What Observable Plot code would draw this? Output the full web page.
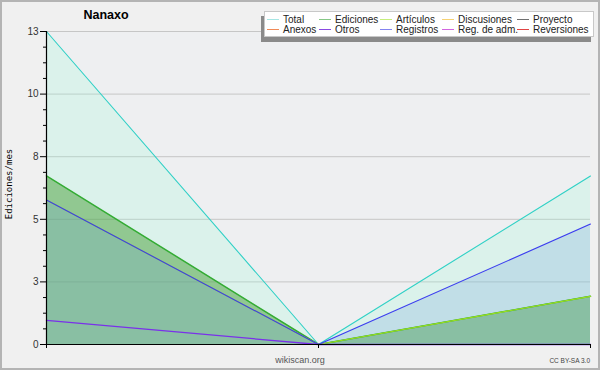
<!DOCTYPE html>
<html><head><meta charset="utf-8">
<script src="https://cdn.jsdelivr.net/npm/d3@7"></script>
<script src="https://cdn.jsdelivr.net/npm/@observablehq/plot@0.6"></script>
<style>
html,body{margin:0;padding:0;background:#f0f0f0;}
#wrap{position:relative;width:600px;height:370px;background:#f0f0f0;overflow:hidden;font-family:"Liberation Sans",sans-serif;}
#wrap svg{position:absolute;left:0;top:0;background:transparent;}
#border{position:absolute;left:0;top:0;width:600px;height:370px;box-sizing:border-box;border:2px solid #b4b4b4;pointer-events:none;}
#title{position:absolute;left:66px;width:80px;top:8px;text-align:center;font:bold 12.5px "Liberation Sans",sans-serif;color:#000;}
#ylabel{position:absolute;left:9px;top:184px;transform:translate(-50%,-50%) rotate(-90deg);font:9px "DejaVu Sans Mono",monospace;color:#000;white-space:nowrap;}
#site{position:absolute;left:300px;top:355px;transform:translateX(-50%);font:9px "Liberation Sans",sans-serif;color:#555;}
#cc{position:absolute;right:10px;top:357px;font:6.5px "Liberation Sans",sans-serif;color:#444;}
#legend{position:absolute;left:264px;top:11px;width:328px;height:24px;background:#fff;border:1px solid #c8c8c8;box-shadow:-3px 5px 0 #8a8a8a;}
.li{position:absolute;height:10px;font:10px "Liberation Sans",sans-serif;color:#222;line-height:10px;white-space:nowrap;}
.sw{display:inline-block;width:12px;height:0;border-top:1.5px solid;vertical-align:middle;margin-right:4px;position:relative;top:-1px;}
</style></head><body><div id="wrap"></div>
<script>
// periods (three monthly points)
const periods = [0, 1, 2];
// series values (ediciones / mes)
const total     = [13, 0, 7];
const ediciones = [7, 0, 2];
const articulos = [6, 0, 2];
const registros = [6, 0, 5];
const otros     = [1, 0, 0];
// axis ticks
const yTicks      = [0, 2.6, 5.2, 7.8, 10.4, 13];
const yTickLabels = ["0", "3", "5", "8", "10", "13"];
const yMinor      = [0.65, 1.3, 1.95, 3.25, 3.9, 4.55, 5.85, 6.5, 7.15, 8.45, 9.1, 9.75, 11.05, 11.7, 12.35];
// legend
const legendNames  = ["Total", "Ediciones", "Artículos", "Discusiones", "Proyecto", "Anexos", "Otros", "Registros", "Reg. de adm.", "Reversiones"];
const legendColors = ["#a6e6e4", "#86c886", "#c6ee7c", "#f6d274", "#707070", "#f08a58", "#8a4ae2", "#8484f0", "#d266e0", "#e04444"];

const rows = (vals) => periods.map((p, i) => ({x: p, y: vals[i]}));

const chart = Plot.plot({
  width: 600, height: 370,
  marginLeft: 46, marginRight: 10, marginTop: 31, marginBottom: 26,
  style: {background: "transparent", fontFamily: "Liberation Sans, sans-serif", fontSize: "10px", color: "#333"},
  x: {domain: [0, 2], axis: null},
  y: {domain: [0, 13], axis: null},
  marks: [
    Plot.frame({fill: "#eeeff1", stroke: "none"}),
    Plot.ruleY(yTicks.slice(1), {stroke: "#c6c6c6", strokeWidth: 1}),
    Plot.areaY(rows(total), {x: "x", y: "y", fill: "#90fed8", fillOpacity: 0.2}),
    Plot.areaY(rows(ediciones), {x: "x", y: "y", fill: "#489e38", fillOpacity: 0.5}),
    Plot.areaY(rows(registros), {x: "x", y: "y", fill: "#74a2dc", fillOpacity: 0.25}),
    Plot.line(rows(total), {x: "x", y: "y", stroke: "#30d0c6", strokeWidth: 1.1}),
    Plot.line(rows(ediciones), {x: "x", y: "y", stroke: "#34ac34", strokeWidth: 1.5}),
    Plot.line(rows(articulos), {x: "x", y: "y", stroke: "#9ee020", strokeWidth: 1.1}),
    Plot.line(rows(registros), {x: "x", y: "y", stroke: "#3a3af0", strokeWidth: 1.1}),
    Plot.line(rows(otros), {x: "x", y: "y", stroke: "#7a30ea", strokeWidth: 1.3}),
    Plot.axisY(yTicks, {anchor: "left", label: null, tickSize: 6, tickPadding: 2, tickFormat: (d) => yTickLabels[yTicks.indexOf(d)], fill: "#333", stroke: "#000", fontSize: 10}),
    Plot.axisY(yMinor, {anchor: "left", label: null, tickSize: 3, tickFormat: () => "", stroke: "#000"}),
    Plot.axisX(periods, {anchor: "bottom", label: null, tickSize: 4, tickFormat: () => "", stroke: "#000"}),
    Plot.ruleX([0], {stroke: "#000", strokeWidth: 1.2}),
    Plot.ruleY([0], {stroke: "#000", strokeWidth: 1.2})
  ]
});

const wrap = document.getElementById("wrap");
wrap.appendChild(chart);

const add = (id, text) => { const d = document.createElement("div"); d.id = id; d.textContent = text; wrap.appendChild(d); return d; };
add("title", "Nanaxo");
add("ylabel", "Ediciones/mes");
add("site", "wikiscan.org");
add("cc", "CC BY-SA 3.0");

const legend = document.createElement("div");
legend.id = "legend";
const colX = [2, 54, 115, 177, 252];
legendNames.forEach((name, i) => {
  const item = document.createElement("div");
  item.className = "li";
  item.style.left = colX[i % 5] + "px";
  item.style.top = (i < 5 ? 3 : 13) + "px";
  const sw = document.createElement("span");
  sw.className = "sw";
  sw.style.borderTopColor = legendColors[i];
  item.appendChild(sw);
  item.appendChild(document.createTextNode(name));
  legend.appendChild(item);
});
wrap.appendChild(legend);

const border = document.createElement("div");
border.id = "border";
wrap.appendChild(border);
</script>
</body></html>
